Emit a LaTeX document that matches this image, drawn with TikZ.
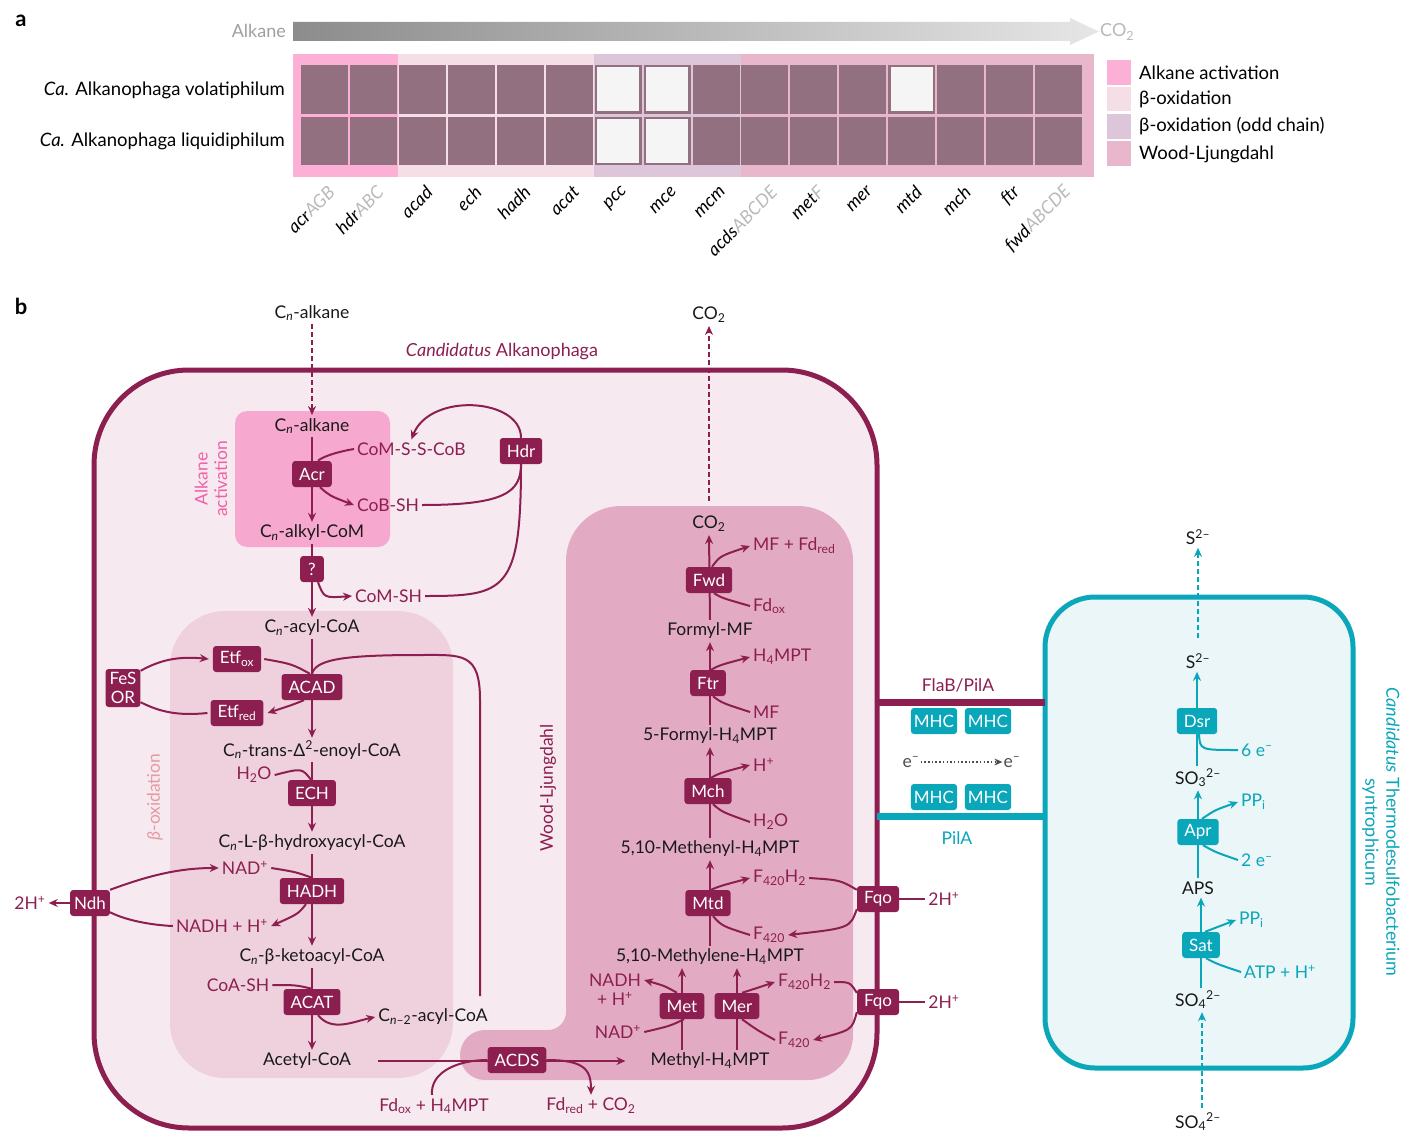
\documentclass[tikz,border=0pt]{standalone}
\usepackage{fontspec}
\setmainfont{Lato}
\usetikzlibrary{arrows.meta}
\definecolor{mar}{HTML}{8C1F50}
\definecolor{tl}{HTML}{0AA6BA}
\definecolor{cellbg}{HTML}{F6EAF0}
\definecolor{alkbg}{HTML}{F7A8CF}
\definecolor{betabg}{HTML}{EFD1DD}
\definecolor{wlbg}{HTML}{E3ABC3}
\definecolor{tcellbg}{HTML}{EAF6F8}
\definecolor{heat}{HTML}{927080}
\definecolor{wcell}{HTML}{F5F5F5}
\definecolor{gA}{HTML}{FCB0D5}
\definecolor{gB}{HTML}{F6DEE6}
\definecolor{gC}{HTML}{DDC6D9}
\definecolor{gD}{HTML}{E9B7CB}
\definecolor{grdA}{HTML}{8C8C8C}
\definecolor{grdB}{HTML}{E6E6E6}
\definecolor{alklab}{HTML}{F060A8}
\definecolor{betalab}{HTML}{E59AA2}
\newcommand\fsz[1]{\fontsize{#1}{#1}\selectfont}
\newcommand\Cn{C\textsubscript{\itshape n}}
\newcommand\sbs[1]{\textsubscript{#1}}
\newcommand\sps[1]{\textsuperscript{#1}}
\pgfdeclarelayer{back}
\pgfdeclarelayer{mid}
\pgfsetlayers{back,mid,main}
\tikzset{
  metab/.style={font=\fsz{17.5}, text=black!90, inner sep=3pt},
  cof/.style={font=\fsz{17.5}, text=mar, inner sep=3pt},
  tcof/.style={font=\fsz{17.5}, text=tl, inner sep=3pt},
  enz/.style={fill=mar, text=white, font=\fsz{17}, rounded corners=3pt, inner xsep=7pt, inner ysep=0pt, minimum height=26pt},
  tenz/.style={enz, fill=tl},
  rx/.style={draw=mar, line width=2pt},
  arr/.style={rx, -{Stealth[length=9pt,width=8pt]}},
  trx/.style={draw=tl, line width=2pt},
  tarr/.style={trx, -{Stealth[length=9pt,width=8pt]}},
  gene/.style={font=\fsz{18}\itshape, rotate=45, anchor=east, inner sep=0pt},
  leg/.style={font=\fsz{18.5}, anchor=west, inner sep=0pt},
}
\newcommand\gl[3]{\node[gene] at (#1+7,189) {#2\textcolor{gray!55}{#3}};}
\begin{document}
\begin{tikzpicture}[x=1pt,y=-1pt]
\useasboundingbox (0,0) rectangle (1402,1134);
%%%%%%%%%%%%%%%% panel a
\node[font=\fsz{22}\bfseries] (la) at (21,21) {a};
\node[font=\fsz{18}, text=gray!75, anchor=east, inner sep=0pt] (alkg) at (286,31) {Alkane};
\shade[left color=grdA, right color=grdB] (293,22) -- (1070,22) -- (1070,18) -- (1099,31.5) -- (1070,45) -- (1070,41) -- (293,41) -- cycle;
\node[font=\fsz{18}, text=gray!55, anchor=west, inner sep=0pt] (co2g) at (1100,32) {CO\sbs{2}};
\fill[gA] (293,54) rectangle (398,177);
\fill[gB] (398,54) rectangle (594,177);
\fill[gC] (594,54) rectangle (741,177);
\fill[gD] (741,54) rectangle (1094,177);
\foreach \i in {0,...,15}{
  \pgfmathsetmacro\xl{301+48.94*\i}
  \fill[heat] (\xl,65) rectangle ++(47,49);
  \fill[heat] (\xl,117) rectangle ++(47,48);
}
\foreach \i/\yy in {6/65,7/65,12/65,6/117,7/117}{
  \pgfmathsetmacro\xl{301+48.94*\i}
  \fill[wcell] (\xl+2.5,\yy+2.5) rectangle ++(42,43.5);
}
\node[font=\fsz{18.5}, anchor=east, inner sep=0pt] (r1) at (285,90) {\textit{Ca.} Alkanophaga volatiphilum};
\node[font=\fsz{18.5}, anchor=east, inner sep=0pt] (r2) at (285,141) {\textit{Ca.} Alkanophaga liquidiphilum};
\gl{324.5}{acr}{AGB}
\gl{373.4}{hdr}{ABC}
\gl{422.4}{acad}{}
\gl{471.3}{ech}{}
\gl{520.3}{hadh}{}
\gl{569.2}{acat}{}
\gl{618.1}{pcc}{}
\gl{667.1}{mce}{}
\gl{716.0}{mcm}{}
\gl{767.0}{acds}{ABCDE}
\gl{813.9}{met}{F}
\gl{862.8}{mer}{}
\gl{911.8}{mtd}{}
\gl{960.7}{mch}{}
\gl{1009.7}{ftr}{}
\gl{1060.6}{fwd}{ABCDE}
\fill[gA] (1107,60) rectangle (1131,85);
\fill[gB] (1107,87) rectangle (1131,111);
\fill[gC] (1107,114) rectangle (1131,139);
\fill[gD] (1107,141) rectangle (1131,166);
\node[leg] at (1139,73) {Alkane activation};
\node[leg] at (1139,99) {β-oxidation};
\node[leg] at (1139,126) {β-oxidation (odd chain)};
\node[leg] at (1139,154) {Wood-Ljungdahl};
%%%%%%%%%%%%%%%% panel b backgrounds
\begin{pgfonlayer}{back}
\draw[mar, line width=5pt, fill=cellbg, rounded corners=95pt] (94,370) rectangle (877,1128);
\fill[alkbg, rounded corners=12pt] (235,411) rectangle (390,547);
\fill[betabg, rounded corners=55pt] (170,611) rectangle (453,1078);
\fill[wlbg] [rounded corners=25pt] (520,1080) -- (460,1080) -- (460,1030) [rounded corners=18pt] -- (566,1030) [rounded corners=55pt] -- (566,506) -- (853,506) [rounded corners=45pt] -- (853,1080) -- cycle;
\draw[tl, line width=5pt, fill=tcellbg, rounded corners=50pt] (1045,597) rectangle (1353,1068);
\draw[mar, line width=7pt] (877,702) -- (1045,702);
\draw[tl, line width=7pt] (877,816) -- (1045,816);
\end{pgfonlayer}
\node[font=\fsz{22}\bfseries] (lb) at (21,306) {b};
\node[font=\fsz{18}, text=mar] (candA) at (502,352) {\textit{Candidatus} Alkanophaga};
\node[font=\fsz{17.5}, text=alklab, rotate=90, align=center, inner sep=0pt] (alkact) at (211,479) {Alkane\\[2pt]activation};
\node[font=\fsz{17.5}, text=betalab, rotate=90, inner sep=0pt] (betalab) at (155,797) {\textit{β}-oxidation};
\node[font=\fsz{17.5}, text=mar, rotate=90, inner sep=0pt] (wllab) at (548,788) {Wood-Ljungdahl};
%%%%%%%%%%%%%%%% alkane activation
\node[metab] (alk0) at (312,313) {\Cn-alkane};
\node[metab] (co2top) at (709,315) {CO\sbs{2}};
\node[metab] (alk1) at (312,426) {\Cn-alkane};
\node[enz] (acr) at (312,474) {Acr};
\node[metab] (alkylcom) at (312,533) {\Cn-alkyl-CoM};
\node[cof, anchor=west] (cossc) at (354,449) {CoM-S-S-CoB};
\node[cof, anchor=west] (cobsh) at (354,505) {CoB-SH};
\node[enz] (hdr) at (521,451) {Hdr};
\node[enz, inner xsep=8pt] (q) at (312,569) {?};
\node[cof, anchor=west] (comsh) at (352,596) {CoM-SH};
%%%%%%%%%%%%%%%% beta oxidation
\node[metab] (acyl) at (312,628) {\Cn-acyl-CoA};
\node[enz] (etfox) at (237,659) {Etf\sbs{ox}};
\node[enz] (acad) at (312,687) {ACAD};
\node[enz] (etfred) at (237,713) {Etf\sbs{red}};
\node[enz, align=center, inner xsep=4pt, inner ysep=3pt, font=\fsz{17}\linespread{1.15}\selectfont] (fes) at (123,688) {FeS\\OR};
\node[metab] (enoyl) at (312,750) {\Cn-trans-Δ\sps{2}-enoyl-CoA};
\node[cof] (h2o) at (254,775) {H\sbs{2}O};
\node[enz] (ech) at (312,793) {ECH};
\node[metab] (hydroxy) at (312,843) {\Cn-L-β-hydroxyacyl-CoA};
\node[cof] (nad) at (245,868) {NAD\sps{+}};
\node[enz] (hadh) at (312,891) {HADH};
\node[cof] (nadh) at (222,926) {NADH + H\sps{+}};
\node[enz, inner xsep=4pt] (ndh) at (90,903) {Ndh};
\node[cof] (h2a) at (30,903) {2H\sps{+}};
\node[metab] (keto) at (312,957) {\Cn-β-ketoacyl-CoA};
\node[cof] (coash) at (238,985) {CoA-SH};
\node[enz] (acat) at (312,1002) {ACAT};
\node[metab] (acyl2) at (433,1017) {C\sbs{\textit{n}–2}-acyl-CoA};
\node[metab] (acetyl) at (307,1061) {Acetyl-CoA};
\coordinate (ret) at (480,996);
%%%%%%%%%%%%%%%% ACDS
\node[enz] (acds) at (517,1060) {ACDS};
\node[metab] (methyl) at (710,1061) {Methyl-H\sbs{4}MPT};
\node[cof] (fdox) at (434,1106) {Fd\sbs{ox} + H\sbs{4}MPT};
\node[cof] (fdred) at (591,1106) {Fd\sbs{red} + CO\sbs{2}};
%%%%%%%%%%%%%%%% Wood-Ljungdahl
\node[metab] (co2w) at (709,524) {CO\sbs{2}};
\node[enz] (fwd) at (709,580) {Fwd};
\node[cof, anchor=west] (mffd) at (750,546) {MF + Fd\sbs{red}};
\node[cof, anchor=west] (fdox2) at (750,606) {Fd\sbs{ox}};
\node[metab] (formylmf) at (710,631) {Formyl-MF};
\node[enz] (ftr) at (708,683) {Ftr};
\node[cof, anchor=west] (h4mpt) at (750,657) {H\sbs{4}MPT};
\node[cof, anchor=west] (mf) at (750,712) {MF};
\node[metab] (formylh4) at (710,736) {5-Formyl-H\sbs{4}MPT};
\node[enz] (mch) at (708,791) {Mch};
\node[cof, anchor=west] (hplus) at (750,765) {H\sps{+}};
\node[cof, anchor=west] (h2ob) at (750,822) {H\sbs{2}O};
\node[metab] (methenyl) at (710,849) {5,10-Methenyl-H\sbs{4}MPT};
\node[enz] (mtd) at (708,903) {Mtd};
\node[cof, anchor=west] (f420h2a) at (750,878) {F\sbs{420}H\sbs{2}};
\node[cof, anchor=west] (f420a) at (750,935) {F\sbs{420}};
\node[metab] (methylene) at (710,957) {5,10-Methylene-H\sbs{4}MPT};
\node[enz] (met) at (682,1006) {Met};
\node[enz] (mer) at (737,1006) {Mer};
\node[cof] (nadh2) at (615,980) {NADH};
\node[cof] (nadh2b) at (615,999) {+ H\sps{+}};
\node[cof] (nad2) at (618,1032) {NAD\sps{+}};
\node[cof, anchor=west] (f420h2b) at (775,982) {F\sbs{420}H\sbs{2}};
\node[cof, anchor=west] (f420b) at (775,1040) {F\sbs{420}};
\node[enz] (fqo1) at (878,899) {Fqo};
\node[enz] (fqo2) at (878,1002) {Fqo};
\node[cof] (h2b) at (944,899) {2H\sps{+}};
\node[cof] (h2c) at (944,1002) {2H\sps{+}};
%%%%%%%%%%%%%%%% interspecies
\node[font=\fsz{17.5}, text=mar] (flab) at (958,685) {FlaB/PilA};
\node[font=\fsz{17.5}, text=tl] (pila) at (957,838) {PilA};
\node[tenz, inner xsep=3pt] (mhc1) at (934,721) {MHC};
\node[tenz, inner xsep=3pt] (mhc2) at (988,721) {MHC};
\node[tenz, inner xsep=3pt] (mhc3) at (934,797) {MHC};
\node[tenz, inner xsep=3pt] (mhc4) at (988,797) {MHC};
\node[font=\fsz{17.5}, text=black!70, inner sep=1pt] (e1) at (911,762) {e\sps{–}};
\node[font=\fsz{17.5}, text=black!70, inner sep=1pt] (e2) at (1012,762) {e\sps{–}};
\node[font=\fsz{18}, text=tl, rotate=-90, align=center, inner sep=0pt] (candT) at (1381,832) {\textit{Candidatus} Thermodesulfobacterium\\[3pt]syntrophicum};
%%%%%%%%%%%%%%%% sulfate reduction
\node[metab] (s2top) at (1198,537) {S\sps{2–}};
\node[metab] (s2) at (1198,661) {S\sps{2–}};
\node[tenz] (dsr) at (1197,721) {Dsr};
\node[tcof, anchor=west] (sixe) at (1238,750) {6 e\sps{–}};
\node[metab] (so3) at (1198,778) {SO\sbs{3}\sps{2–}};
\node[tenz] (apr) at (1198,832) {Apr};
\node[tcof, anchor=west] (ppi1) at (1238,802) {PP\sbs{i}};
\node[tcof, anchor=west] (twoe) at (1238,860) {2 e\sps{–}};
\node[metab] (aps) at (1198,888) {APS};
\node[tenz] (sat) at (1201,945) {Sat};
\node[tcof, anchor=west] (ppi2) at (1236,920) {PP\sbs{i}};
\node[tcof, anchor=west] (atp) at (1241,972) {ATP + H\sps{+}};
\node[metab] (so4) at (1198,1000) {SO\sbs{4}\sps{2–}};
\node[metab] (so4b) at (1198,1122) {SO\sbs{4}\sps{2–}};
%%%%%%%%%%%%%%%% connectors
\begin{pgfonlayer}{mid}
\draw[arr, line width=2.5pt, dash pattern=on 5pt off 3pt] (alk0.south) -- (alk1.north);
\draw[arr, line width=2.5pt, dash pattern=on 5pt off 3pt] ([yshift=12pt]co2w.north) -- (co2top.south);
\draw[arr] (alk1.south) -- (alkylcom.north);
\draw[rx] (cossc.west) .. controls (336,452) and (322,457) .. ([xshift=6pt]acr.north);
\draw[arr] ([xshift=8pt]acr.south) .. controls (330,496) .. (cobsh.west);
\draw[arr] (hdr.north) .. controls (521,398) and (430,392) .. (cossc.north);
\draw[rx] (cobsh.east) .. controls (505,505) and (521,492) .. (hdr.south);
\draw[rx] (hdr.south) .. controls (521,592) and (505,596) .. (comsh.east);
\draw[arr] (alkylcom.south) -- (acyl.north);
\draw[arr] ([xshift=6pt]q.south) .. controls (324,598) .. (comsh.west);
% beta
\draw[arr] (acyl.south) -- (enoyl.north);
\draw[rx] ([xshift=3pt]etfox.east) .. controls (292,664) .. ([xshift=-2pt]acad.north);
\draw[arr] ([xshift=-8pt]acad.south) .. controls (292,705) .. ([xshift=4pt]etfred.east);
\draw[arr] ([yshift=-2pt]fes.north east) .. controls (160,660) and (178,656) .. ([xshift=-4pt]etfox.west);
\draw[rx] ([xshift=-3pt]etfred.west) .. controls (178,716) and (160,712) .. ([yshift=5pt]fes.south east);
\draw[rx] (ret) -- (480,700) .. controls (480,652) and (462,655) .. (420,655) .. controls (340,655) and (316,660) .. (acad.north);
\draw[arr] (enoyl.south) -- (hydroxy.north);
\draw[rx] (h2o.east) .. controls (302,768) .. ([xshift=-1pt]ech.north);
\draw[arr] (hydroxy.south) -- (keto.north);
\draw[rx] (nad.east) .. controls (296,872) .. (hadh.north);
\draw[arr] ([xshift=-6pt]hadh.south) .. controls (298,914) .. (nadh.east);
\draw[arr] (ndh.north east) .. controls (150,875) and (180,868) .. (nad.west);
\draw[rx] (nadh.west) .. controls (150,925) and (125,920) .. ([yshift=4pt]ndh.south east);
\draw[arr] (ndh.west) -- (h2a.east);
\draw[arr] (keto.south) -- (keto.south |- acetyl.north);
\draw[rx] (coash.east) .. controls (296,985) .. (acat.north);
\draw[arr] ([xshift=6pt]acat.south) .. controls (332,1032) and (352,1022) .. (acyl2.west);
% ACDS
\draw[arr] ([xshift=24pt]acetyl.east) -- ([xshift=-22pt]methyl.west);
\draw[rx] ([xshift=-2pt]fdox.north) .. controls (430,1072) and (458,1060) .. (acds.west);
\draw[arr] (acds.east) .. controls (585,1060) and (591,1070) .. (fdred.north);
% WL
\draw[arr] (formylmf.north) -- (co2w.south);
\draw[arr] ([xshift=3pt]fwd.north) .. controls (720,556) .. (mffd.west);
\draw[rx] ([xshift=5pt]fwd.south) .. controls (722,598) .. (fdox2.west);
\draw[arr] (formylh4.north) -- (formylmf.south);
\draw[arr] ([xshift=3pt]ftr.north) .. controls (720,665) .. (h4mpt.west);
\draw[rx] ([xshift=5pt]ftr.south) .. controls (722,703) .. (mf.west);
\draw[arr] (methenyl.north) -- (formylh4.south);
\draw[arr] ([xshift=3pt]mch.north) .. controls (720,773) .. (hplus.west);
\draw[rx] ([xshift=5pt]mch.south) .. controls (722,812) .. (h2ob.west);
\draw[arr] (methylene.north) -- (methenyl.south);
\draw[arr] ([xshift=3pt]mtd.north) .. controls (720,886) .. (f420h2a.west);
\draw[rx] ([xshift=5pt]mtd.south) .. controls (722,926) .. (f420a.west);
\draw[rx] (f420h2a.east) .. controls (840,880) .. ([yshift=-4pt]fqo1.north west);
\draw[arr] ([yshift=3pt]fqo1.south west) .. controls (850,928) .. (f420a.east);
\draw[rx] (fqo1.east) -- (h2b.west);
\draw[arr] (met |- methyl.north) -- (met |- methylene.south);
\draw[arr] (mer |- methyl.north) -- (mer |- methylene.south);
\draw[arr] ([xshift=-5pt]met.north) .. controls (665,986) .. (nadh2.east);
\draw[rx] (nad2.east) .. controls (670,1026) .. ([xshift=2pt]met.south);
\draw[arr] ([xshift=5pt]mer.north) .. controls (757,988) .. (f420h2b.west);
\draw[rx] ([xshift=5pt]mer.south) .. controls (757,1030) .. (f420b.west);
\draw[rx] (f420h2b.east) .. controls (850,982) .. ([yshift=-4pt]fqo2.north west);
\draw[arr] ([yshift=3pt]fqo2.south west) .. controls (852,1030) .. (f420b.east);
\draw[rx] (fqo2.east) -- (h2c.west);
% interspecies
\draw[black!70, line width=1.8pt, dash pattern=on 1.5pt off 2.2pt, -{Stealth[length=8pt,width=7pt]}] (e1.east) -- (e2.west);
% sulfate
\draw[tarr, line width=2.5pt, dash pattern=on 5pt off 3pt] ([yshift=12pt]s2.north) -- (s2top.south);
\draw[tarr] (dsr |- so3.north) -- (dsr |- s2.south);
\draw[trx] ([xshift=2pt]dsr.south) .. controls (1200,750) .. (sixe.west);
\draw[tarr] (apr |- aps.north) -- (apr |- so3.south);
\draw[tarr] ([xshift=4pt]apr.north) .. controls (1215,810) .. (ppi1.west);
\draw[trx] ([xshift=5pt]apr.south) .. controls (1215,852) .. (twoe.west);
\draw[tarr] (sat |- so4.north) -- (sat |- aps.south);
\draw[tarr] ([xshift=4pt]sat.north) .. controls (1217,927) .. (ppi2.west);
\draw[trx] ([xshift=5pt]sat.south) .. controls (1217,964) .. (atp.west);
\draw[tarr, line width=2.5pt, dash pattern=on 5pt off 3pt] ([xshift=4pt,yshift=2pt]so4b.north) -- ([xshift=4pt]so4.south);
\end{pgfonlayer}
\end{tikzpicture}
\end{document}
